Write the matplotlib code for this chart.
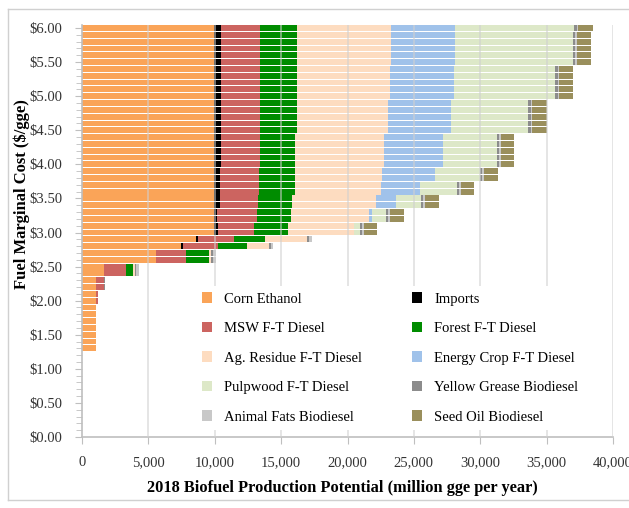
import numpy as np
import matplotlib.pyplot as plt
from matplotlib.patches import Patch
from matplotlib.ticker import MultipleLocator, FuncFormatter
from matplotlib.lines import Line2D

plt.rcParams['font.family'] = ['Liberation Serif', 'DejaVu Serif']

# price levels, top ($6.00) to bottom ($1.30)
cost = [6.0, 5.9, 5.8, 5.7, 5.6, 5.5, 5.4, 5.3, 5.2, 5.1, 5.0, 4.9, 4.8, 4.7, 4.6, 4.5,
        4.4, 4.3, 4.2, 4.1, 4.0, 3.9, 3.8, 3.7, 3.6, 3.5, 3.4, 3.3, 3.2, 3.1, 3.0,
        2.9, 2.8, 2.7, 2.6, 2.5, 2.4, 2.3, 2.2, 2.1, 2.0, 1.9, 1.8, 1.7, 1.6, 1.5, 1.4, 1.3]

# million gge per year for each price row
corn = [9910] * 31 + [8610, 7480, 5550, 5550, 1680, 1680, 1030, 1030, 1050, 1050] + [1050] * 7
imports = [560] * 21 + [510, 510, 510, 510, 450, 450, 250, 250, 300, 300, 150, 130] + [0] * 15
msw = [2970] * 16 + [2910] * 5 + [2940, 2940, 2890, 2890, 2870, 2870, 3030, 3030, 2770, 2770,
                                  2720, 2610, 2300, 2300, 1620, 1620, 630, 630, 130, 130] + [0] * 7
forest = [2770] * 16 + [2700] * 5 + [2720, 2720, 2700, 2700, 2600, 2600, 2570, 2570, 2510, 2510,
                                     2290, 2220, 1680, 1680, 570, 570] + [0] * 11
ag_res = [7040] * 6 + [6990] * 5 + [6870] * 5 + [6670] * 5 + [6550, 6550, 6490, 6490, 6340, 6340,
                                                              5860, 5860, 4980, 4980, 3200, 1630,
                                                              200, 200, 130, 130] + [0] * 11
energy = [4830] * 6 + [4790] * 5 + [4700] * 5 + [4460] * 5 + [3970, 3970, 2970, 2970, 1460, 1460,
                                                              260, 260] + [0] * 19
pulp = [9010] + [8880] * 5 + [7650] * 5 + [5840] * 5 + [4030] * 5 + [3380, 3380, 2770, 2770, 1890, 1890,
                                                                     1000, 1000, 450, 450] + [0] * 17
yellow = [180] * 31 + [150, 150, 150, 150, 100, 100, 40, 40] + [0] * 9
animal = [120] * 31 + [230, 180, 230, 230, 200, 200, 40, 40] + [0] * 9
seed = [1080] * 11 + [1100] * 5 + [1030] * 5 + [1040, 1040, 960, 960, 1040, 1040, 1040, 1040,
                                                1010, 1010] + [0] * 17

names = ["Corn Ethanol", "Imports", "MSW F-T Diesel", "Forest F-T Diesel",
         "Ag. Residue F-T Diesel", "Energy Crop F-T Diesel", "Pulpwood F-T Diesel",
         "Yellow Grease Biodiesel", "Animal Fats Biodiesel", "Seed Oil Biodiesel"]
series = [corn, imports, msw, forest, ag_res, energy, pulp, yellow, animal, seed]
colors = ['#FAA458', '#000000', '#CC6460', '#008C00', '#FDDCC0',
          '#A0C2EA', '#DDE8C8', '#8C8C8C', '#C8C8C8', '#9A8F5C']

fig = plt.figure(figsize=(6.29, 5.08), dpi=100)
ax = fig.add_axes([82 / 629, 1 - 437 / 508, 531 / 629, (437 - 24.6) / 508])

left = np.zeros(len(cost))
for vals, c in zip(series, colors):
    v = np.array(vals, dtype=float)
    ax.barh(cost, v, left=left, height=0.086, color=c, linewidth=0, zorder=2)
    left += v

for xv in range(5000, 40001, 5000):
    ax.axvline(xv, color='#D0D0D0', lw=1.3, alpha=0.6, zorder=3)

ax.set_xlim(0, 40000)
ax.set_ylim(0, 6.05)
ax.xaxis.set_major_locator(MultipleLocator(5000))
ax.xaxis.set_major_formatter(FuncFormatter(lambda x, p: f"{int(x):,}"))
ax.yaxis.set_major_locator(MultipleLocator(0.5))
ax.yaxis.set_minor_locator(MultipleLocator(0.1))
ax.yaxis.set_major_formatter(FuncFormatter(lambda y, p: f"${y:.2f}"))

for s in ['top', 'right']:
    ax.spines[s].set_visible(False)
for s in ['left', 'bottom']:
    ax.spines[s].set_color('#BFBFBF')
    ax.spines[s].set_linewidth(1.2)

ax.tick_params(axis='x', which='major', length=5, color='#BFBFBF', pad=9, labelsize=10.5, labelcolor='#333333')
ax.tick_params(axis='y', which='major', length=5, color='#BFBFBF', pad=9, labelsize=10.5, labelcolor='#333333')
ax.tick_params(axis='y', which='minor', length=4, color='#BFBFBF')

ax.set_xlabel("2018 Biofuel Production Potential (million gge per year)",
              fontsize=11.8, fontweight='bold')
ax.xaxis.set_label_coords(0.49, -0.105)
ax.set_ylabel("Fuel Marginal Cost ($/gge)", fontsize=12, fontweight='bold')
ax.yaxis.set_label_coords(-0.097, 0.59)

# legend: fill row-wise like the original
order = [0, 2, 4, 6, 8, 1, 3, 5, 7, 9]
handles = [Patch(facecolor=colors[i], edgecolor='none') for i in order]
labels = [names[i] for i in order]
leg = ax.legend(handles, labels, ncol=2, loc='upper left', bbox_to_anchor=(0.215, 0.365),
                frameon=True, facecolor='white', edgecolor='none', framealpha=1,
                fontsize=10.5, handlelength=0.7, handleheight=0.7, handletextpad=0.8,
                columnspacing=3.45, labelspacing=1.12, borderaxespad=0)
leg.set_zorder(5)

# outer chart border
fig.add_artist(Line2D([8 / 629, 8 / 629], [1 - 500 / 508, 1 - 9 / 508], color='#D0D0D0', lw=1))
fig.add_artist(Line2D([8 / 629, 1], [1 - 9 / 508, 1 - 9 / 508], color='#D0D0D0', lw=1))
fig.add_artist(Line2D([8 / 629, 1], [1 - 500 / 508, 1 - 500 / 508], color='#D0D0D0', lw=1))

fig.savefig("out.png", dpi=100)
